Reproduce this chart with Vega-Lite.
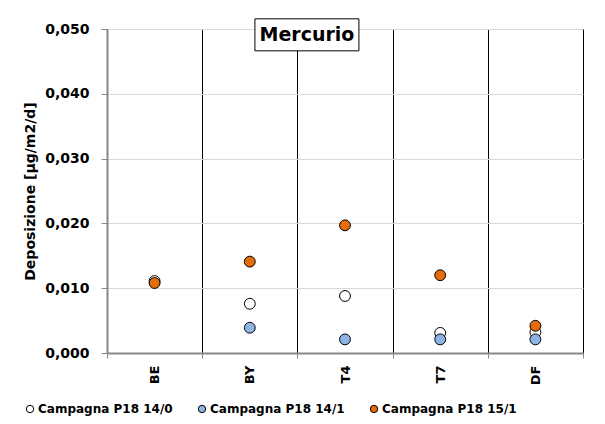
{
  "$schema": "https://vega.github.io/schema/vega-lite/v6.json",
  "width": 476,
  "height": 324,
  "autosize": {"type": "none"},
  "padding": {"left": 107, "top": 29, "right": 22, "bottom": 71},
  "background": "white",
  "config": {
    "font": "DejaVu Sans",
    "view": {"stroke": "black", "strokeWidth": 1, "fill": "white"}
  },
  "datasets": {
    "pts": [
      {"sito": "BE", "serie": "Campagna P18 14/0", "valore": 0.0111},
      {"sito": "BE", "serie": "Campagna P18 15/1", "valore": 0.0108},
      {"sito": "BY", "serie": "Campagna P18 14/0", "valore": 0.0076},
      {"sito": "BY", "serie": "Campagna P18 14/1", "valore": 0.0039},
      {"sito": "BY", "serie": "Campagna P18 15/1", "valore": 0.0141},
      {"sito": "T4", "serie": "Campagna P18 14/0", "valore": 0.0088},
      {"sito": "T4", "serie": "Campagna P18 14/1", "valore": 0.0021},
      {"sito": "T4", "serie": "Campagna P18 15/1", "valore": 0.0197},
      {"sito": "T7", "serie": "Campagna P18 14/0", "valore": 0.0031},
      {"sito": "T7", "serie": "Campagna P18 14/1", "valore": 0.0021},
      {"sito": "T7", "serie": "Campagna P18 15/1", "valore": 0.0120},
      {"sito": "DF", "serie": "Campagna P18 14/0", "valore": 0.0032},
      {"sito": "DF", "serie": "Campagna P18 14/1", "valore": 0.0021},
      {"sito": "DF", "serie": "Campagna P18 15/1", "valore": 0.0042}
    ],
    "titolo": [
      {"testo": "Mercurio", "sito": "T4", "valore": 0.0491}
    ]
  },
  "layer": [
    {
      "data": {"name": "pts"},
      "mark": {"type": "point", "shape": "circle", "filled": true, "opacity": 1, "size": 118, "stroke": "black", "strokeWidth": 1},
      "encoding": {
        "x": {
          "field": "sito", "type": "nominal",
          "sort": ["BE", "BY", "T4", "T7", "DF"],
          "scale": {"type": "band", "domain": ["BE", "BY", "T4", "T7", "DF"], "paddingInner": 0, "paddingOuter": 0},
          "axis": {
            "title": null,
            "tickBand": "extent",
            "grid": true, "gridColor": "#000000", "gridWidth": 1, "gridOpacity": 1,
            "domainColor": "#888888", "domainWidth": 2,
            "tickColor": "#888888", "tickSize": 5, "tickWidth": 1,
            "labelAngle": -90, "labelPadding": 7,
            "labelFont": "DejaVu Sans", "labelFontWeight": "bold", "labelFontSize": 13, "labelColor": "black"
          }
        },
        "y": {
          "field": "valore", "type": "quantitative",
          "scale": {"domain": [0, 0.05], "nice": false, "zero": true},
          "axis": {
            "title": "Deposizione [µg/m2/d]",
            "values": [0, 0.01, 0.02, 0.03, 0.04, 0.05],
            "labelExpr": "replace(format(datum.value, '.3f'), '.', ',')",
            "grid": true, "gridColor": "#D9D9D9", "gridWidth": 1,
            "domainColor": "#888888", "domainWidth": 2,
            "tickColor": "#888888", "tickSize": 6, "tickWidth": 1,
            "labelPadding": 12,
            "labelFont": "DejaVu Sans", "labelFontWeight": "bold", "labelFontSize": 14, "labelColor": "black",
            "titleFont": "DejaVu Sans", "titleFontWeight": "bold", "titleFontSize": 14, "titleColor": "black",
            "titlePadding": 7
          }
        },
        "color": {
          "field": "serie", "type": "nominal",
          "scale": {
            "domain": ["Campagna P18 14/0", "Campagna P18 14/1", "Campagna P18 15/1"],
            "range": ["#FFFFFF", "#8DB4E2", "#E46C0A"]
          },
          "legend": {
            "title": null,
            "orient": "none",
            "direction": "horizontal",
            "columns": 3,
            "legendX": -83,
            "legendY": 374,
            "padding": 0,
            "symbolType": "circle",
            "symbolSize": 55,
            "symbolStrokeColor": "black",
            "symbolStrokeWidth": 1,
            "symbolOpacity": 1,
            "labelOffset": 2,
            "columnPadding": 23,
            "labelFont": "DejaVu Sans", "labelFontWeight": "bold", "labelFontSize": 12, "labelColor": "black"
          }
        }
      }
    },
    {
      "data": {"name": "titolo"},
      "mark": {"type": "point", "shape": "M-1,-0.3077H1V0.3077H-1Z", "filled": true, "fill": "white", "stroke": "black", "strokeWidth": 1, "size": 10816, "opacity": 1},
      "encoding": {
        "x": {"field": "sito", "type": "nominal", "sort": ["BE", "BY", "T4", "T7", "DF"], "bandPosition": 0.1},
        "y": {"field": "valore", "type": "quantitative"}
      }
    },
    {
      "data": {"name": "titolo"},
      "mark": {"type": "text", "font": "DejaVu Sans", "fontWeight": "bold", "fontSize": 19, "color": "black", "align": "center", "baseline": "middle"},
      "encoding": {
        "x": {"field": "sito", "type": "nominal", "sort": ["BE", "BY", "T4", "T7", "DF"], "bandPosition": 0.1},
        "y": {"field": "valore", "type": "quantitative"},
        "text": {"field": "testo"}
      }
    }
  ]
}
